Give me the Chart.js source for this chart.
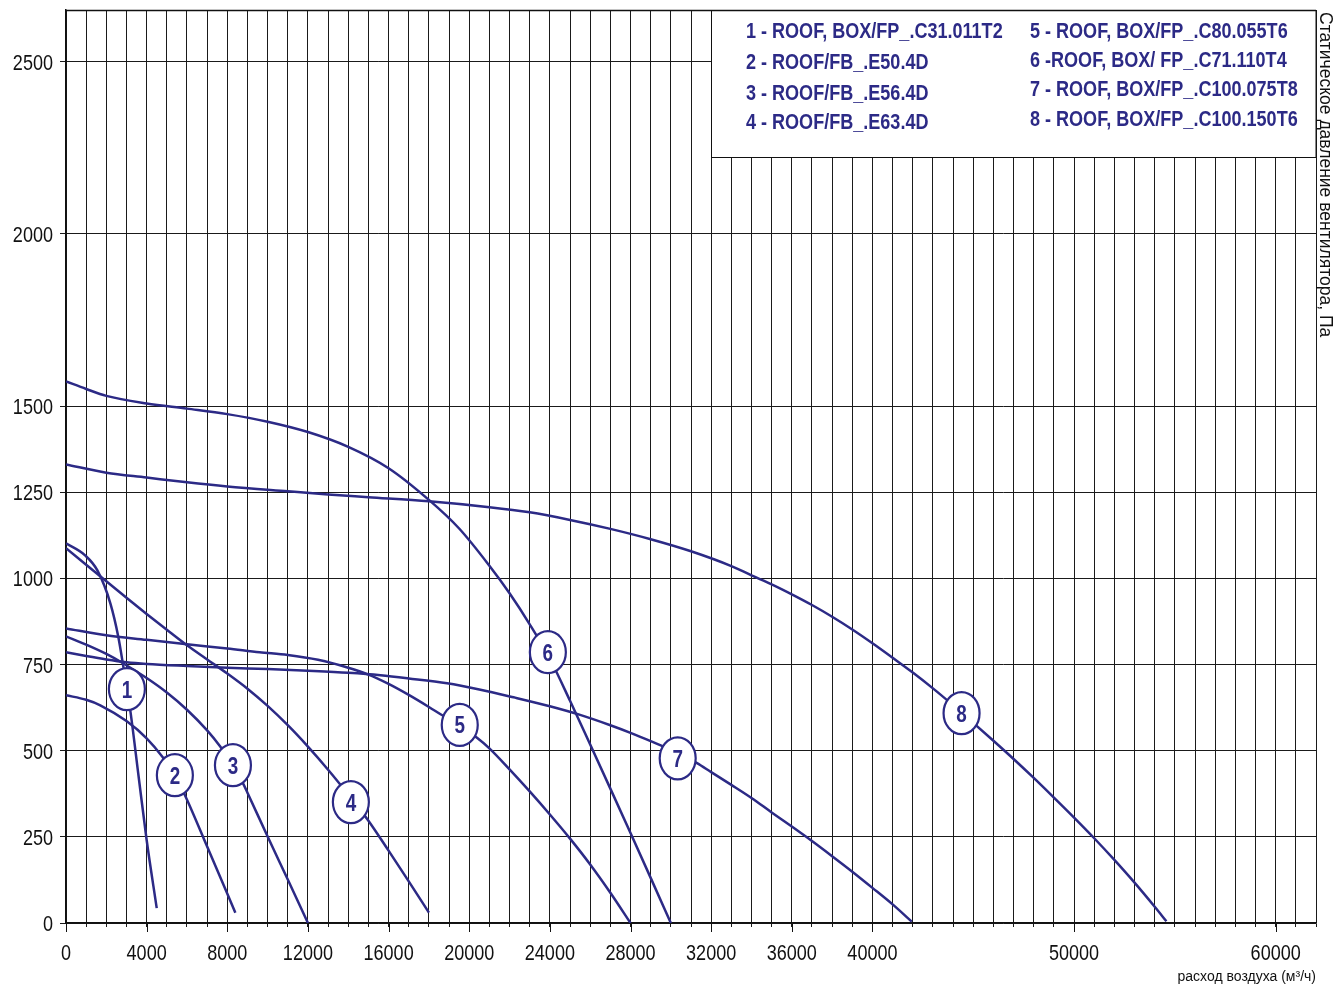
<!DOCTYPE html>
<html>
<head>
<meta charset="utf-8">
<title>Fan curves</title>
<script src="https://cdn.jsdelivr.net/npm/chart.js@4"></script>
<style>
  body { margin: 0; background: white; }
  canvas { display: block; }
</style>
</head>
<body>
<canvas id="fanchart" width="1333" height="984"></canvas>
<script>
const ctx = document.getElementById('fanchart');

const navy = '#2c2a86';
const sans = "'Liberation Sans', Arial, sans-serif";
const squeeze = 0.82; // no Arial Narrow here, so squeeze Liberation Sans

// [air flow m3/h, static pressure Pa]
const curve1 = [[0,1102],[950,1067],[1550,1024],[2200,928],[2600,829],[2850,742],[3050,668],[3200,612],[3600,426],[4000,241],[4500,43]];
const curve2 = [[0,661],[1000,648],[1700,632],[3000,586],[4000,536],[4800,481],[5400,429],[5900,371],[7000,222],[8400,30]];
const curve3 = [[0,832],[1000,808],[2000,781],[2830,754],[4000,711],[5000,669],[6000,619],[7000,559],[7640,513],[8000,482],[8800,403],[9000,378],[10000,251],[11000,126],[12000,0]];
const curve4 = [[0,1088],[1000,1040],[2000,992],[3000,944],[4000,897],[5000,851],[6000,806],[7000,765],[8000,724],[9000,680],[10000,630],[11000,574],[12000,512],[13000,445],[14000,373],[15000,297],[16000,210],[17000,121],[18000,30]];
const curve5 = [[0,855],[2000,835],[4000,822],[6000,809],[8000,797],[9600,786],[11000,778],[12500,764],[14000,741],[15000,721],[16000,694],[17000,662],[18000,627],[18600,605],[19500,573],[20400,537],[21000,507],[22000,446],[23000,382],[24000,315],[25000,245],[26000,170],[27000,88],[28000,0]];
const curve6 = [[0,1572],[1000,1550],[2000,1530],[4000,1508],[6000,1493],[8000,1477],[10000,1455],[12000,1425],[14000,1382],[16000,1320],[18000,1228],[19500,1145],[21000,1037],[22000,957],[23000,867],[24000,767],[25000,645],[26000,518],[27000,390],[28000,261],[29000,131],[30000,0]];
const curve7 = [[0,786],[1000,775],[2000,765],[3000,757],[4000,752],[6000,746],[8000,741],[10000,737],[12000,732],[14000,726],[15600,719],[17000,710],[18900,696],[20500,678],[22200,655],[24000,629],[25500,604],[27000,574],[28000,552],[29000,528],[30300,495],[31300,464],[32000,438],[33000,401],[34000,363],[35000,321],[36000,280],[37000,238],[38000,194],[39000,149],[40000,102],[41000,54],[41950,4]];
const curve8 = [[0,1331],[2000,1307],[4000,1293],[6000,1279],[8000,1267],[11000,1253],[13000,1244],[15000,1236],[18000,1224],[21000,1207],[23000,1192],[25000,1170],[27000,1144],[29000,1114],[31000,1079],[33000,1036],[34000,1009],[35000,983],[36000,954],[37000,923],[38000,889],[39000,852],[40000,812],[41000,770],[42000,727],[43000,681],[44000,632],[45000,581],[46000,529],[47000,476],[48000,421],[49000,364],[50000,306],[51000,246],[52000,183],[53000,117],[54000,47],[54580,5]];

const curves = [curve1, curve2, curve3, curve4, curve5, curve6, curve7, curve8];

const models = [
  '1 - ROOF, BOX/FP_.C31.011T2',
  '2 - ROOF/FB_.E50.4D',
  '3 - ROOF/FB_.E56.4D',
  '4 - ROOF/FB_.E63.4D',
  '5 - ROOF, BOX/FP_.C80.055T6',
  '6 -ROOF, BOX/ FP_.C71.110T4',
  '7 - ROOF, BOX/FP_.C100.075T8',
  '8 - ROOF, BOX/FP_.C100.150T6'
];

// where the numbered circles sit
const markerFlow = [3020, 5400, 8280, 14130, 19530, 23900, 30340, 44420];
const markerPress = [679, 429, 458, 351, 575, 786, 478, 609];

const xLabels = [0,4000,8000,12000,16000,20000,24000,28000,32000,36000,40000,50000,60000];
const yTicks = [0,250,500,750,1000,1250,1500,2000,2500];

function narrowText(c, txt, x, y) {
  c.save();
  c.translate(x, y);
  c.scale(squeeze, 1);
  c.fillText(txt, 0, 0);
  c.restore();
}

const extras = {
  id: 'extras',
  afterDatasetsDraw(chart) {
    const c = chart.ctx;
    const area = chart.chartArea;
    const xs = chart.scales.x;
    const ys = chart.scales.y;
    c.save();

    // legend box
    const bx = Math.round(xs.getPixelForValue(32000)) + 0.5;
    c.fillStyle = 'white';
    c.fillRect(bx, area.top, area.right - bx, 147);
    c.strokeStyle = '#111';
    c.lineWidth = 1;
    c.strokeRect(bx, area.top + 0.5, area.right - bx, 147);

    c.fillStyle = navy;
    c.font = 'bold 22px ' + sans;
    c.textAlign = 'left';
    c.textBaseline = 'alphabetic';
    const rows1 = [38, 69, 100, 129];
    const rows2 = [38, 67, 96, 126];
    for (let i = 0; i < models.length; i++) {
      if (i < 4) narrowText(c, models[i], 746, rows1[i]);
      else narrowText(c, models[i], 1030, rows2[i - 4]);
    }

    // numbered circles
    for (let i = 0; i < markerFlow.length; i++) {
      const px = xs.getPixelForValue(markerFlow[i]);
      const py = ys.getPixelForValue(markerPress[i]);
      c.beginPath();
      c.ellipse(px, py, 18, 21, 0, 0, Math.PI * 2);
      c.fillStyle = 'white';
      c.fill();
      c.lineWidth = 2.2;
      c.strokeStyle = navy;
      c.stroke();
      c.fillStyle = navy;
      c.font = 'bold 23px ' + sans;
      c.textAlign = 'center';
      c.textBaseline = 'alphabetic';
      narrowText(c, String(i + 1), px, py + 8.5);
    }

    // top frame line
    c.strokeStyle = '#111';
    c.lineWidth = 1.5;
    c.beginPath();
    c.moveTo(area.left, area.top + 0.5);
    c.lineTo(area.right, area.top + 0.5);
    c.stroke();

    // longer ticks under the labelled flows
    c.lineWidth = 1;
    c.beginPath();
    xLabels.forEach(v => {
      const px = Math.round(xs.getPixelForValue(v)) + 0.5;
      c.moveTo(px, area.bottom);
      c.lineTo(px, area.bottom + 9);
    });
    c.stroke();

    // tick labels
    c.fillStyle = '#111';
    c.font = '22px ' + sans;
    c.textAlign = 'center';
    c.textBaseline = 'alphabetic';
    xLabels.forEach(v => narrowText(c, String(v), xs.getPixelForValue(v), 960));
    c.textAlign = 'right';
    yTicks.forEach(v => narrowText(c, String(v), 53, ys.getPixelForValue(v) + 8));

    // axis titles
    c.font = '14px ' + sans;
    c.textAlign = 'right';
    c.fillText('расход воздуха (м³/ч)', area.right, 981);

    c.translate(1320, 12);
    c.rotate(Math.PI / 2);
    c.font = '17.5px ' + sans;
    c.textAlign = 'left';
    c.fillText('Статическое давление вентилятора, Па', 0, 0);

    c.restore();
  }
};

new Chart(ctx, {
  type: 'line',
  data: {
    datasets: curves.map(cv => ({
      data: cv.map(p => ({ x: p[0], y: p[1] })),
      borderColor: navy,
      borderWidth: 2.5,
      pointRadius: 0,
      fill: false,
      cubicInterpolationMode: 'monotone'
    }))
  },
  options: {
    responsive: false,
    animation: false,
    devicePixelRatio: 1,
    layout: { padding: { top: 10, right: 17, left: 0, bottom: 0 } },
    plugins: {
      legend: { display: false },
      tooltip: { enabled: false }
    },
    scales: {
      x: {
        type: 'linear',
        min: 0,
        max: 62000,
        afterBuildTicks: s => {
          const t = [];
          for (let v = 0; v <= 62000; v += 1000) t.push({ value: v });
          s.ticks = t;
        },
        afterFit: s => { s.height = 61; },
        ticks: { display: false },
        grid: { color: '#1a1a1a', lineWidth: 1, tickLength: 4 },
        border: { color: '#111', width: 1.5 }
      },
      y: {
        min: 0,
        max: 2650,
        afterBuildTicks: s => { s.ticks = yTicks.map(v => ({ value: v })); },
        afterFit: s => { s.width = 66; },
        ticks: { display: false },
        grid: { color: '#1a1a1a', lineWidth: 1, tickLength: 6 },
        border: { color: '#111', width: 1.5 }
      }
    }
  },
  plugins: [extras]
});
</script>
</body>
</html>
